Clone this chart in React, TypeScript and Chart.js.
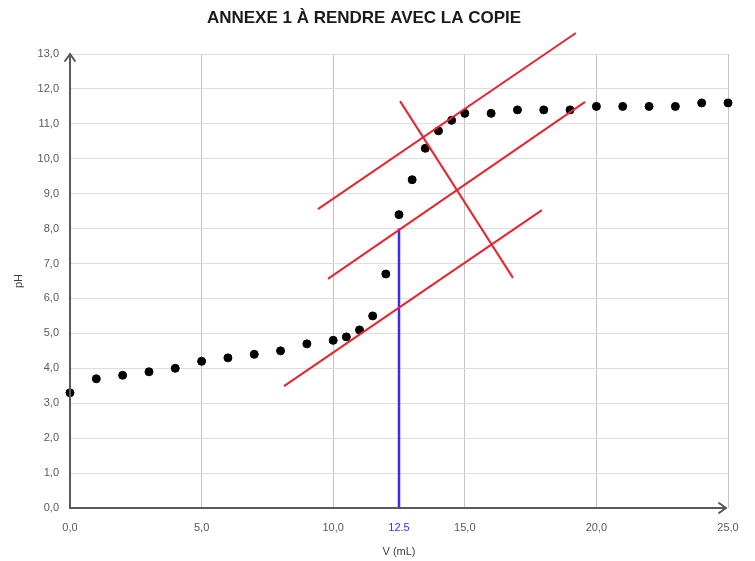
import React, { useEffect, useRef } from "react";
import { Chart, registerables } from "chart.js";

Chart.register(...registerables);

const titleText = "ANNEXE 1 À RENDRE AVEC LA COPIE";
const xTitle = "V (mL)";
const yTitle = "pH";

const volumes = [0, 1, 2, 3, 4, 5, 6, 7, 8, 9, 10, 10.5, 11, 11.5, 12, 12.5, 13, 13.5, 14, 14.5, 15, 16, 17, 18, 19, 20, 21, 22, 23, 24, 25];
const phValues = [3.3, 3.7, 3.8, 3.9, 4.0, 4.2, 4.3, 4.4, 4.5, 4.7, 4.8, 4.9, 5.1, 5.5, 6.7, 8.4, 9.4, 10.3, 10.8, 11.1, 11.3, 11.3, 11.4, 11.4, 11.4, 11.5, 11.5, 11.5, 11.5, 11.6, 11.6];

const xTicks = [0, 5, 10, 12.5, 15, 20, 25];
const yMax = 13;
const equivalenceV = 12.5;
const equivalencePH = 8.0;

// tangent construction lines: [x1, y1, x2, y2]
const tangentTop = [9.42, 8.56, 19.22, 13.6];
const tangentMiddle = [9.8, 6.56, 19.57, 11.63];
const tangentBottom = [8.13, 3.49, 17.93, 8.53];
const perpendicular = [12.54, 11.65, 16.83, 6.59];

const RED = "#e5252f";
const BLUE = "#3a2df0";
const AXIS = "#5a5a5a";
const FONT = "'Liberation Sans', Arial, sans-serif";

const seg = (a: number[]) => [
  { x: a[0], y: a[1] },
  { x: a[2], y: a[3] },
];

const lineDs = (a: number[], color: string, width = 2) => ({
  data: seg(a),
  showLine: true,
  borderColor: color,
  backgroundColor: color,
  borderWidth: width,
  pointRadius: 0,
  pointHoverRadius: 0,
  clip: false as any,
});

const arrowPlugin = {
  id: "arrows",
  afterDraw(chart: any) {
    const { ctx, chartArea } = chart;
    const { left, bottom, top, right } = chartArea;
    ctx.save();
    ctx.strokeStyle = AXIS;
    ctx.lineWidth = 2;
    ctx.lineCap = "round";
    ctx.lineJoin = "round";
    ctx.beginPath();
    ctx.moveTo(left, bottom);
    ctx.lineTo(left, top);
    ctx.stroke();
    ctx.beginPath();
    ctx.moveTo(left - 5, top + 7);
    ctx.lineTo(left, top);
    ctx.lineTo(left + 5, top + 7);
    ctx.stroke();
    const tipX = right - 2;
    ctx.beginPath();
    ctx.moveTo(left, bottom);
    ctx.lineTo(tipX, bottom);
    ctx.stroke();
    ctx.beginPath();
    ctx.moveTo(tipX - 7, bottom - 5);
    ctx.lineTo(tipX, bottom);
    ctx.lineTo(tipX - 7, bottom + 5);
    ctx.stroke();
    ctx.restore();
  },
};

export default function App() {
  const ref = useRef<HTMLCanvasElement>(null);

  useEffect(() => {
    if (!ref.current) return;
    const points = volumes.map((v, i) => ({ x: v, y: phValues[i] }));
    const chart = new Chart(ref.current, {
      type: "scatter",
      data: {
        datasets: [
          lineDs(tangentTop, RED),
          lineDs(tangentMiddle, RED),
          lineDs(tangentBottom, RED),
          lineDs(perpendicular, RED),
          lineDs([equivalenceV, 0, equivalenceV, equivalencePH], BLUE, 2.5),
          {
            data: points,
            backgroundColor: "#000",
            borderColor: "#000",
            pointRadius: 4,
            pointHoverRadius: 4,
            showLine: false,
            clip: false,
          },
        ] as any,
      },
      options: {
        animation: false,
        responsive: true,
        maintainAspectRatio: false,
        layout: { padding: { left: 0, right: 27, top: 0, bottom: 0 } },
        plugins: {
          legend: { display: false },
          tooltip: { enabled: false },
          title: {
            display: true,
            text: titleText,
            color: "#1a1a1a",
            font: { family: FONT, size: 17, weight: "bold" },
            padding: { top: 8, bottom: 25.6 },
          },
        },
        scales: {
          x: {
            type: "linear",
            min: 0,
            max: 25,
            afterFit(scale: any) {
              scale.height = 53;
            },
            afterBuildTicks(scale: any) {
              scale.ticks = xTicks.map((v) => ({ value: v }));
            },
            border: { display: false },
            grid: {
              drawTicks: false,
              color: (ctx: any) =>
                ctx.tick && (ctx.tick.value === equivalenceV || ctx.tick.value === 0) ? "rgba(0,0,0,0)" : "#c2c2c2",
              lineWidth: 1,
            },
            ticks: {
              padding: 13,
              autoSkip: false,
              maxRotation: 0,
              font: { family: FONT, size: 11 },
              color: (ctx: any) => (ctx.tick && ctx.tick.value === equivalenceV ? BLUE : "#595959"),
              callback: (v: any) => (Number(v) === equivalenceV ? "12.5" : Number(v).toFixed(1).replace(".", ",")),
            },
            title: {
              display: true,
              text: xTitle,
              color: "#404040",
              font: { family: FONT, size: 11 },
              padding: { top: 0, bottom: 2 },
            },
          },
          y: {
            type: "linear",
            min: 0,
            max: yMax,
            afterFit(scale: any) {
              scale.width = 70;
            },
            border: { display: false },
            grid: {
              drawTicks: false,
              color: (ctx: any) => (ctx.tick && ctx.tick.value === 0 ? "rgba(0,0,0,0)" : "#dedede"),
              lineWidth: 1,
            },
            ticks: {
              stepSize: 1,
              padding: 11,
              font: { family: FONT, size: 11 },
              color: "#595959",
              callback: (v: any) => Number(v).toFixed(1).replace(".", ","),
            },
            title: {
              display: true,
              text: yTitle,
              color: "#404040",
              font: { family: FONT, size: 11 },
              padding: { top: 12, bottom: 0 },
            },
          },
        },
      },
      plugins: [arrowPlugin],
    });
    return () => chart.destroy();
  }, []);

  return (
    <div style={{ position: "fixed", left: 0, top: 0, width: 755, height: 561, background: "#fff" }}>
      <canvas ref={ref} />
    </div>
  );
}
